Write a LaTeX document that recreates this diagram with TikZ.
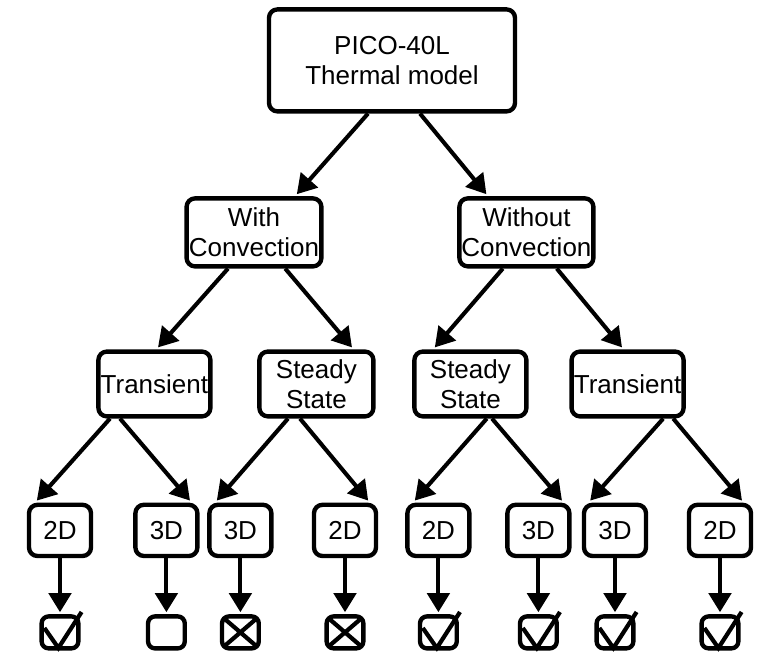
\documentclass[tikz,border=0pt]{standalone}
\usepackage{fontspec}
\setmainfont{Liberation Sans}
\usetikzlibrary{arrows.meta,calc}
\tikzset{
  box/.style={draw=black,line width=3.1pt,rounded corners=6pt,fill=white,align=center,inner sep=0pt,font=\fontsize{18.5}{21}\selectfont},
  leaf/.style={box,minimum width=1.55cm,minimum height=1.28cm},
  chk/.style={draw=black,line width=3.1pt,rounded corners=5pt,minimum width=.92cm,minimum height=.8cm,inner sep=0pt},
  arr/.style={-{Triangle[length=4.8mm,width=5.6mm]},line width=2.9pt,draw=black},
  tickline/.style={line width=3pt,line join=miter},
}
\newcommand{\ticked}[1]{\draw[tickline] ($(#1.center)+(-.39,.11)$) -- ($(#1.center)+(-.04,-.39)$) -- ($(#1.center)+(.54,.51)$);}
\newcommand{\crossed}[1]{\draw[tickline] ($(#1.north west)+(.09,-.09)$) -- ($(#1.south east)+(-.09,.09)$) ($(#1.north east)+(-.09,-.09)$) -- ($(#1.south west)+(.09,.09)$);}
\begin{document}
\begin{tikzpicture}[x=1cm,y=1cm,line join=round]
\useasboundingbox (0,0) rectangle (19.125,16.4);
% tree
\node[box,minimum width=6.15cm,minimum height=2.55cm] (model) at (9.8,14.89) {PICO-40L\\Thermal model};
\node[box,minimum width=3.37cm,minimum height=1.7cm] (conv) at (6.35,10.59) {With\\Convection};
\node[box,minimum width=3.35cm,minimum height=1.7cm] (noconv) at (13.16,10.59) {Without\\Convection};
\node[box,minimum width=2.8cm,minimum height=1.62cm] (convtr) at (3.86,6.8) {Transient};
\node[box,minimum width=2.85cm,minimum height=1.62cm] (convss) at (7.91,6.8) {Steady\\State};
\node[box,minimum width=2.8cm,minimum height=1.62cm] (noconvss) at (11.76,6.8) {Steady\\State};
\node[box,minimum width=2.8cm,minimum height=1.62cm] (noconvtr) at (15.69,6.8) {Transient};
% leaves
\node[leaf] (ctr2) at (1.5,3.14) {2D};
\node[leaf] (ctr3) at (4.16,3.14) {3D};
\node[leaf] (css3) at (6.01,3.14) {3D};
\node[leaf] (css2) at (8.625,3.14) {2D};
\node[leaf] (nss2) at (10.96,3.14) {2D};
\node[leaf] (nss3) at (13.46,3.14) {3D};
\node[leaf] (ntr3) at (15.375,3.14) {3D};
\node[leaf] (ntr2) at (18.0,3.14) {2D};
\foreach \n in {ctr2,ctr3,css3,css2,nss2,nss3,ntr3,ntr2}
  \node[chk] (k\n) at (\n |- 0,.59) {};
% connectors
\draw[arr] ($(model.south)+(-.6,0)$) -- ($(conv.north)+(1.07,.05)$);
\draw[arr] ($(model.south)+(.7,0)$) -- ($(noconv.north)+(-1,.05)$);
\draw[arr] ($(conv.south)+(-.65,0)$) -- ($(convtr.north)+(.09,.05)$);
\draw[arr] ($(conv.south)+(.78,0)$) -- ($(convss.north)+(.89,.05)$);
\draw[arr] ($(noconv.south)+(-.59,0)$) -- ($(noconvss.north)+(-.89,.05)$);
\draw[arr] ($(noconv.south)+(.76,0)$) -- ($(noconvtr.north)+(-.14,.05)$);
\draw[arr] ($(convtr.south)+(-1.11,0)$) -- ($(ctr2.north)+(-.58,.05)$);
\draw[arr] ($(convtr.south)+(-.86,0)$) -- ($(ctr3.north)+(.59,.05)$);
\draw[arr] ($(convss.south)+(-.71,0)$) -- ($(css3.north)+(-.59,.05)$);
\draw[arr] ($(convss.south)+(-.41,0)$) -- ($(css2.north)+(.58,.05)$);
\draw[arr] ($(noconvss.south)+(.41,0)$) -- ($(nss2.north)+(-.59,.05)$);
\draw[arr] ($(noconvss.south)+(.54,0)$) -- ($(nss3.north)+(.59,.05)$);
\draw[arr] ($(noconvtr.south)+(.89,0)$) -- ($(ntr3.north)+(-.62,.05)$);
\draw[arr] ($(noconvtr.south)+(1.14,0)$) -- ($(ntr2.north)+(.55,.05)$);
\foreach \n in {ctr2,ctr3,css3,css2,nss2,nss3,ntr3,ntr2}
  \draw[arr] (\n.south) -- ($(k\n.north)+(0,.05)$);
% results
\ticked{kctr2}
\crossed{kcss3}
\crossed{kcss2}
\ticked{knss2}
\ticked{knss3}
\ticked{kntr3}
\ticked{kntr2}
\end{tikzpicture}
\end{document}
